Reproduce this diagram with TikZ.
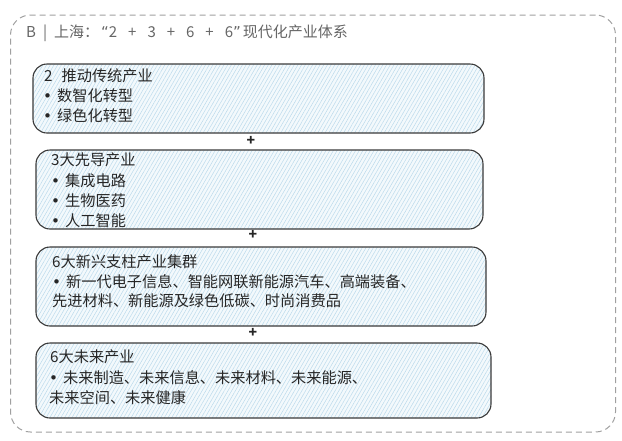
\documentclass[tikz,border=0pt]{standalone}
\usepackage{fontspec}
\setmainfont{Noto Sans CJK SC}
\newfontfamily\dvfont{DejaVu Sans}
\usetikzlibrary{patterns.meta}
\definecolor{edge}{HTML}{3A3A3A}
\definecolor{hatchbg}{HTML}{F3F9FC}
\definecolor{hatch}{HTML}{BBDAEC}
\definecolor{titlegrey}{HTML}{666666}
\definecolor{frame}{HTML}{A0A0A0}
\newcommand{\bul}{{\dvfont •}\hspace{5pt}}
\newcommand{\tsp}{\hspace{11pt}}
\tikzset{
  card/.style={draw=edge, line width=1.1pt, rounded corners=14pt,
    preaction={fill=hatchbg},
    pattern={Lines[angle=60,distance=3.2pt,line width=0.5pt]}, pattern color=hatch,
    inner sep=0pt},
  txt/.style={anchor=west, inner sep=0pt, font=\fontsize{15.2pt}{18pt}\selectfont, text=black!85},
  plus/.style={inner sep=0pt, font=\fontsize{14pt}{16pt}\selectfont\bfseries, text=black!85},
}
\begin{document}
\begin{tikzpicture}[x=1pt,y=-1pt]
\useasboundingbox (0,0) rectangle (622,440);
% outer dashed frame
\node[draw=frame, line width=1pt, dash pattern=on 6pt off 4pt, rounded corners=20pt,
  minimum width=605pt, minimum height=417pt, inner sep=0pt] (frame) at (313,223.5) {};
\node[anchor=west, inner sep=0pt, text=titlegrey, font=\fontsize{15pt}{18pt}\selectfont] (title) at (26,33)
  {B\hspace{7pt}|\hspace{7pt}上海：\hspace{2pt}{\dvfont “}2\tsp+\tsp3\tsp+\tsp6\tsp+\tsp6{\dvfont ”}\hspace{2pt}现代化产业体系};
% cards
\node[card, minimum width=451pt, minimum height=69pt] (c1) at (258.5,98.5) {};
\node[card, minimum width=447pt, minimum height=79pt] (c2) at (259.5,189.5) {};
\node[card, minimum width=450pt, minimum height=79pt] (c3) at (261,286.5) {};
\node[card, minimum width=455pt, minimum height=75pt] (c4) at (263.5,380.5) {};
% card 1 text
\node[txt] (t1a) at (44,76) {2\hspace{9pt}推动传统产业};
\node[txt] (t1b) at (43,96) {\bul 数智化转型};
\node[txt] (t1c) at (43,116) {\bul 绿色化转型};
% card 2 text
\node[txt] (t2a) at (51,160) {3大先导产业};
\node[txt] (t2b) at (51,181) {\bul 集成电路};
\node[txt] (t2c) at (51,201) {\bul 生物医药};
\node[txt] (t2d) at (51,221) {\bul 人工智能};
% card 3 text
\node[txt] (t3a) at (52,262) {6大新兴支柱产业集群};
\node[txt] (t3b) at (52,282) {\bul 新一代电子信息、智能网联新能源汽车、高端装备、};
\node[txt] (t3c) at (52,301) {先进材料、新能源及绿色低碳、时尚消费品};
% card 4 text
\node[txt] (t4a) at (50,357) {6大未来产业};
\node[txt] (t4b) at (49,378) {\bul 未来制造、未来信息、未来材料、未来能源、};
\node[txt] (t4c) at (49,398) {未来空间、未来健康};
% plus signs
\node[plus] (p1) at (251,141) {+};
\node[plus] (p2) at (253,235) {+};
\node[plus] (p3) at (253,333) {+};
\end{tikzpicture}
\end{document}
